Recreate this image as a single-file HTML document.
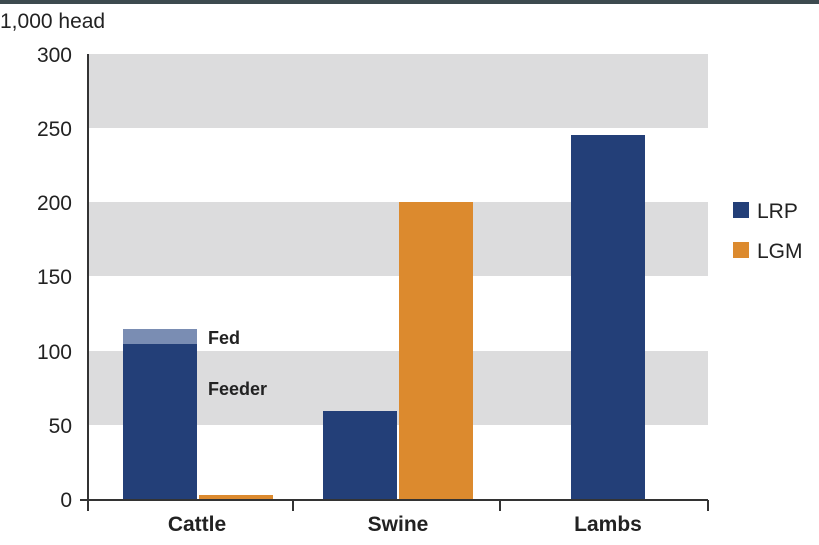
<!DOCTYPE html>
<html><head><style>
body{margin:0;background:#fff;width:819px;height:540px;overflow:hidden}
svg text{font-family:"Liberation Sans",sans-serif}
</style></head><body>
<svg width="819" height="540" xmlns="http://www.w3.org/2000/svg">
<rect x="0" y="0" width="819" height="4" fill="#3d4a4f"/>
<rect x="89" y="54" width="619" height="74" fill="#dcdcdd"/>
<rect x="89" y="202" width="619" height="74" fill="#dcdcdd"/>
<rect x="89" y="351" width="619" height="74" fill="#dcdcdd"/>
<text x="0" y="28" font-size="21" fill="#222">1,000 head</text>
<g font-size="21" fill="#222" text-anchor="end">
<text x="72" y="62">300</text>
<text x="72" y="136">250</text>
<text x="72" y="210">200</text>
<text x="72" y="284">150</text>
<text x="72" y="359">100</text>
<text x="72" y="433">50</text>
<text x="72" y="507">0</text>
</g>
<rect x="123" y="344" width="74" height="156" fill="#233f78"/>
<rect x="123" y="329" width="74" height="15" fill="#7a8db3"/>
<rect x="199" y="495" width="74" height="5" fill="#dc8a2e"/>
<rect x="323" y="411" width="74" height="89" fill="#233f78"/>
<rect x="399" y="202" width="74" height="298" fill="#dc8a2e"/>
<rect x="571" y="135" width="74" height="365" fill="#233f78"/>
<line x1="88" y1="54" x2="88" y2="511" stroke="#333" stroke-width="2"/>
<line x1="80" y1="500" x2="708" y2="500" stroke="#333" stroke-width="2"/>
<line x1="293" y1="500" x2="293" y2="511" stroke="#333" stroke-width="2"/>
<line x1="500" y1="500" x2="500" y2="511" stroke="#333" stroke-width="2"/>
<line x1="708" y1="500" x2="708" y2="511" stroke="#333" stroke-width="2"/>
<g font-size="18" font-weight="bold" fill="#222">
<text x="208" y="344">Fed</text>
<text x="208" y="395">Feeder</text>
</g>
<g font-size="21" font-weight="bold" fill="#222" text-anchor="middle">
<text x="197" y="531">Cattle</text>
<text x="398" y="531">Swine</text>
<text x="608" y="531">Lambs</text>
</g>
<rect x="733" y="202" width="16" height="16" fill="#233f78"/>
<rect x="733" y="242" width="16" height="16" fill="#dc8a2e"/>
<g font-size="21" fill="#222">
<text x="757" y="218">LRP</text>
<text x="757" y="258">LGM</text>
</g>
</svg>
</body></html>
